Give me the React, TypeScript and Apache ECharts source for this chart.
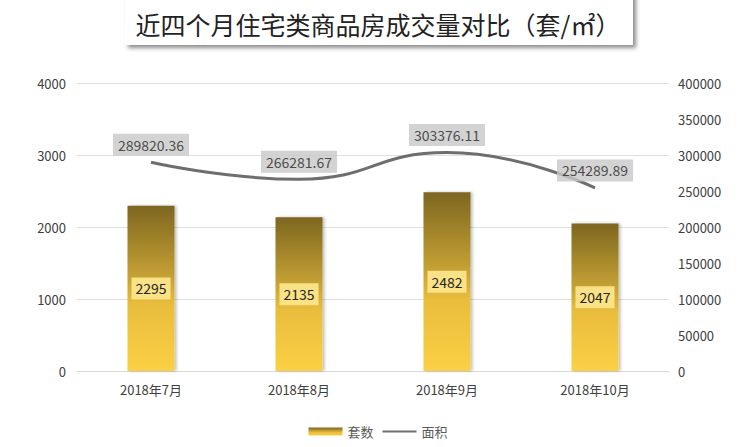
import React, { useEffect, useRef } from "react";
import * as echarts from "echarts";

const categories = ["2018年7月", "2018年8月", "2018年9月", "2018年10月"];
const units = [2295, 2135, 2482, 2047];
const areas = [289820.36, 266281.67, 303376.11, 254289.89];
const titleText = "近四个月住宅类商品房成交量对比（套/㎡）";
const seriesNames = ["套数", "面积"];

const FONT = "'Noto Sans CJK SC', 'Noto Sans', sans-serif";

export default function App() {
  const ref = useRef<HTMLDivElement>(null);
  useEffect(() => {
    if (!ref.current) return;
    const chart = echarts.init(ref.current, null, { renderer: "svg" });
    const barGradient = new echarts.graphic.LinearGradient(0, 0, 0, 1, [
      { offset: 0, color: "#7d6620" },
      { offset: 0.45, color: "#c9a435" },
      { offset: 0.6, color: "#e9bd3c" },
      { offset: 1, color: "#fbd044" },
    ]);
    const plain = (v: number) => String(v);
    chart.setOption({
      animation: false,
      backgroundColor: "#ffffff",
      textStyle: { fontFamily: FONT },
      graphic: [
        {
          type: "rect",
          z: 0,
          shape: { x: 125, y: -10, width: 508, height: 55 },
          style: {
            fill: "#ffffff",
            shadowBlur: 4,
            shadowOffsetX: 3,
            shadowOffsetY: 3,
            shadowColor: "rgba(0,0,0,0.45)",
          },
        },
        {
          type: "text",
          z: 1,
          x: 378,
          y: 24,
          style: {
            text: titleText,
            fill: "#222222",
            font: `25px ${FONT}`,
            align: "center",
            verticalAlign: "middle",
          },
        },
      ],
      legend: {
        bottom: 4,
        left: "center",
        itemWidth: 34,
        itemHeight: 8,
        itemGap: 8,
        textStyle: { color: "#595959", fontSize: 13, fontFamily: FONT },
        data: [
          { name: seriesNames[0], icon: "rect" },
          { name: seriesNames[1], itemStyle: { opacity: 0 } },
        ],
      },
      grid: { left: 77, right: 87, top: 83, bottom: 76, containLabel: false },
      xAxis: {
        type: "category",
        data: categories,
        axisLine: { lineStyle: { color: "#d9d9d9" } },
        axisTick: { show: false },
        axisLabel: { color: "#404040", fontSize: 13, margin: 12, fontFamily: FONT },
      },
      yAxis: [
        {
          type: "value",
          min: 0,
          max: 4000,
          interval: 1000,
          axisLine: { show: false },
          axisTick: { show: false },
          axisLabel: { color: "#404040", fontSize: 13, margin: 11, fontFamily: FONT, formatter: plain },
          splitLine: { lineStyle: { color: "#e0e0e0", width: 1 } },
        },
        {
          type: "value",
          min: 0,
          max: 400000,
          interval: 50000,
          axisLine: { show: false },
          axisTick: { show: false },
          axisLabel: { color: "#404040", fontSize: 13, margin: 9, fontFamily: FONT, formatter: plain },
          splitLine: { show: false },
        },
      ],
      series: [
        {
          name: seriesNames[0],
          type: "bar",
          yAxisIndex: 0,
          data: units,
          barWidth: 47,
          itemStyle: {
            color: barGradient,
            shadowBlur: 3,
            shadowOffsetX: 2,
            shadowColor: "rgba(0,0,0,0.25)",
          },
          label: {
            show: true,
            position: "inside",
            color: "#262626",
            fontSize: 14,
            fontFamily: FONT,
            backgroundColor: "rgba(253,230,140,0.92)",
            padding: [4, 4],
          },
        },
        {
          name: seriesNames[1],
          type: "line",
          yAxisIndex: 1,
          data: areas,
          smooth: 0.5,
          symbol: "none",
          lineStyle: { color: "#6e6e6e", width: 3 },
          itemStyle: { color: "#6e6e6e" },
          z: 3,
        },
        {
          name: "面积标签",
          type: "scatter",
          yAxisIndex: 1,
          data: areas,
          symbolSize: 1,
          itemStyle: { color: "rgba(0,0,0,0)" },
          z: 4,
          label: {
            show: true,
            position: "top",
            distance: 6,
            color: "#262626",
            fontSize: 14,
            fontFamily: FONT,
            backgroundColor: "#c8c8c8",
            padding: [4, 5],
            formatter: (p: any) => Number(p.value).toFixed(2),
          },
        },
      ],
    });
    return () => chart.dispose();
  }, []);
  return (
    <div
      ref={ref}
      style={{ position: "fixed", left: 0, top: 0, width: 756, height: 447 }}
    />
  );
}
